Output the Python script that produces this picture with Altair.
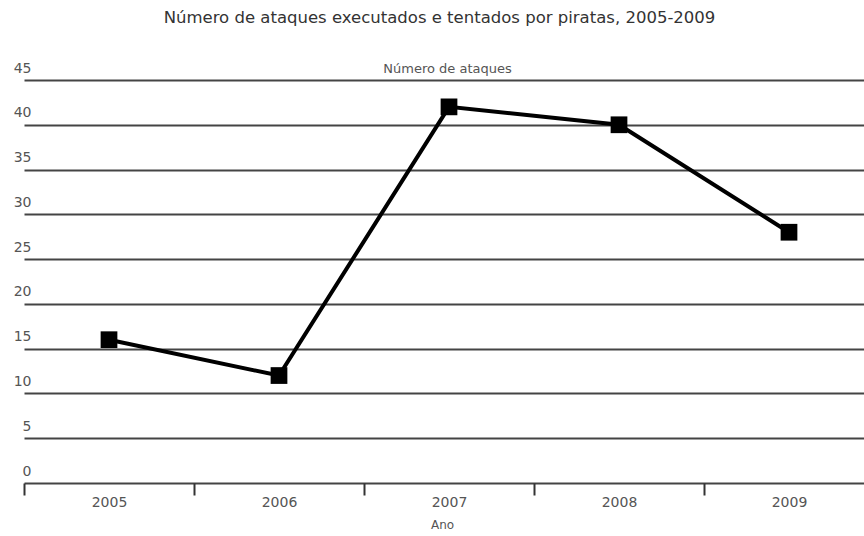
import altair as alt
import pandas as pd

# Attacks by pirates, per year
anos = ["2005", "2006", "2007", "2008", "2009"]
ataques = [16, 12, 42, 40, 28]

df = pd.DataFrame({"Ano": anos, "Ataques": ataques})

FONT = "DejaVu Sans"
GRID = "#444444"
TEXT = "#555555"

x_enc = alt.X(
    "Ano:N",
    sort=anos,
    scale=alt.Scale(range=[9, 859], paddingInner=0, paddingOuter=0),
    axis=alt.Axis(
        title="Ano",
        titleFont=FONT,
        titleFontSize=12,
        titleFontWeight="normal",
        titleColor=TEXT,
        titlePadding=10,
        titleX=427,
        labelFont=FONT,
        labelFontSize=14,
        labelColor=TEXT,
        labelAngle=0,
        labelPadding=0,
        tickBand="extent",
        tickSize=12,
        tickWidth=2,
        tickColor="#333333",
        domain=False,
        grid=False,
    ),
)

y_enc = alt.Y(
    "Ataques:Q",
    scale=alt.Scale(domain=[0, 45], nice=False, zero=True),
    axis=alt.Axis(
        values=list(range(0, 50, 5)),
        title="Número de ataques",
        titleAngle=0,
        titleAlign="center",
        titleBaseline="alphabetic",
        titleX=432,
        titleY=-8,
        titleFont=FONT,
        titleFontSize=13,
        titleFontWeight="normal",
        titleColor=TEXT,
        labelFont=FONT,
        labelFontSize=14,
        labelColor=TEXT,
        labelAlign="right",
        labelBaseline="alphabetic",
        labelPadding=-16,
        labelOffset=-8,
        ticks=False,
        tickSize=0,
        domain=False,
        grid=True,
        gridColor=GRID,
        gridWidth=1.8,
    ),
)

base = alt.Chart(df).encode(x=x_enc, y=y_enc)

line = base.mark_line(color="black", strokeWidth=4)
points = base.mark_point(shape="square", filled=True, color="black", size=280, opacity=1)

chart = (
    alt.layer(line, points)
    .properties(
        width=849,
        height=403,
        background="white",
        title=alt.TitleParams(
            "Número de ataques executados e tentados por piratas, 2005-2009",
            font=FONT,
            fontSize=16.5,
            fontWeight="normal",
            color="#333333",
            anchor="middle",
            offset=35,
        ),
        autosize=alt.AutoSizeParams(type="none"),
        padding={"left": 15, "top": 80, "right": 0, "bottom": 53},
    )
    .configure_view(stroke="transparent", strokeWidth=0)
)

chart.save("out.html", embed_options={"renderer": "svg", "actions": False})
